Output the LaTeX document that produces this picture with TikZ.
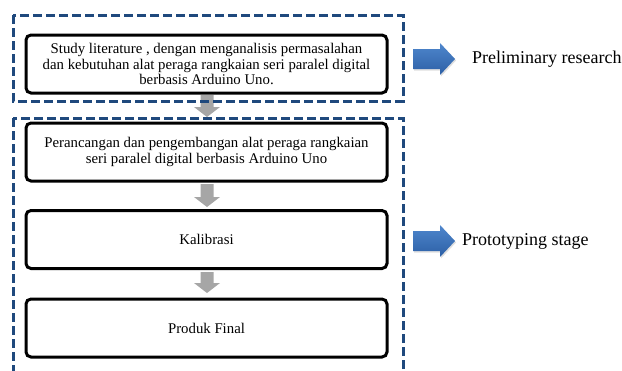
\documentclass[tikz,border=0pt]{standalone}
\usepackage{fontspec}
\setmainfont{Liberation Serif}
\usetikzlibrary{shadows}
\definecolor{dashblue}{RGB}{31,73,125}
\definecolor{arrgray}{RGB}{166,166,166}
\definecolor{bluetop}{RGB}{79,135,205}
\definecolor{bluebot}{RGB}{44,95,165}
\tikzset{
  stepbox/.style={draw=black, line width=3pt, rounded corners=5pt, minimum width=361pt, minimum height=58pt, align=center, font=\fontsize{14.8}{15.8}\selectfont, inner sep=2pt},
  groupbox/.style={draw=dashblue, line width=3pt, dash pattern=on 9pt off 4pt},
  grayarr/.style={fill=arrgray, draw=none},
  bluearr/.style={top color=bluetop, bottom color=bluebot, draw=none, drop shadow={opacity=0.25, shadow xshift=1pt, shadow yshift=-1.5pt}},
  lbl/.style={anchor=west, font=\fontsize{18}{20}\selectfont, inner sep=0pt}
}
\newcommand{\downarr}[3]{% cx, y top, y tip
  \path[grayarr] (#1-6.5,#2) -- (#1+6.5,#2) -- (#1+6.5,#3-10) -- (#1+13,#3-10) -- (#1,#3) -- (#1-13,#3-10) -- (#1-6.5,#3-10) -- cycle;}
\newcommand{\rightarr}[1]{% cy
  \path[bluearr] (413,#1-10) -- (440,#1-10) -- (440,#1-16) -- (455,#1) -- (440,#1+16) -- (440,#1+10) -- (413,#1+10) -- cycle;}
\begin{document}
\begin{tikzpicture}[x=1pt,y=-1pt]
\useasboundingbox (0,0) rectangle (622,370);
\clip (0,0) rectangle (622,370);
% gray arrows (between steps)
\downarr{207}{95}{117}
% groups
\draw[groupbox] (13,15) rectangle (403,101);
\draw[groupbox] (13,118) rectangle (403,380);
% boxes
\node[stepbox] (b1) at (206.5,64) {Study literature , dengan menganalisis permasalahan\\dan kebutuhan alat peraga rangkaian seri paralel digital\\berbasis Arduino Uno.};
\node[stepbox] (b2) at (206.5,152) {Perancangan dan pengembangan alat peraga rangkaian\\seri paralel digital berbasis Arduino Uno};
\node[stepbox] (b3) at (206.5,239.5) {Kalibrasi};
\node[stepbox] (b4) at (206.5,328) {Produk Final};
\downarr{207}{184}{207}
\downarr{207}{272}{293}
% blue arrows and labels
\rightarr{59}
\node[lbl] (l1) at (472,59) {Preliminary research};
\rightarr{241}
\node[lbl] (l2) at (462,241) {Prototyping stage};
\end{tikzpicture}
\end{document}
